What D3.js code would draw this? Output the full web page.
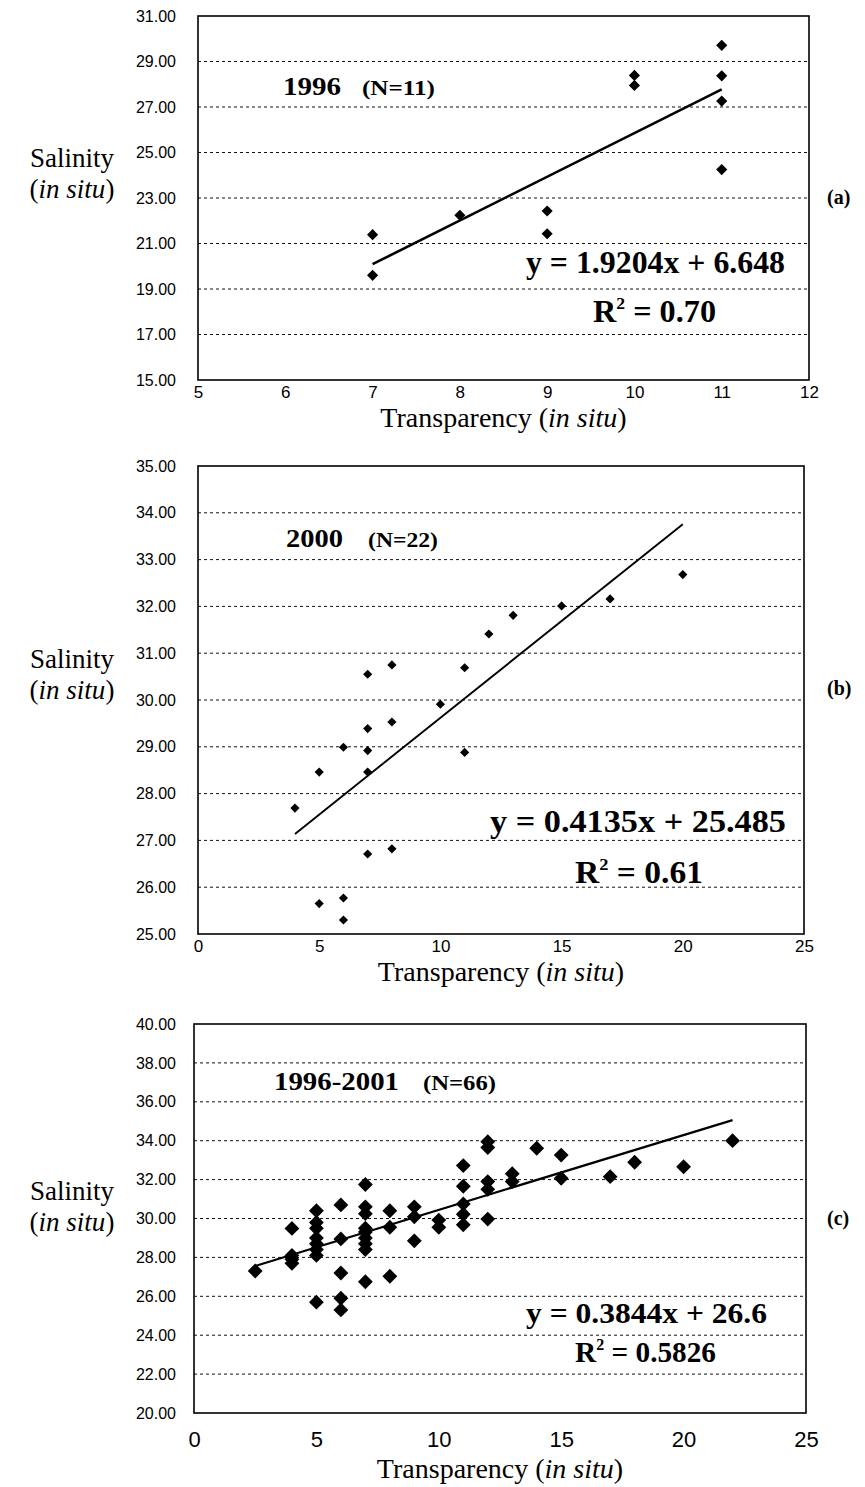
<!DOCTYPE html>
<html>
<head>
<meta charset="utf-8">
<script src="https://cdn.jsdelivr.net/npm/d3@7"></script>
<style>
  body { margin: 0; background: #fff; }
  .sans { font-family: "Liberation Sans", Arial, sans-serif; }
  .serif { font-family: "Liberation Serif", "Times New Roman", serif; }
</style>
</head>
<body>
<svg id="chart" width="865" height="1487"></svg>
<script>
// (a) 1996, N=11
const xA = [7, 7, 8, 9, 9, 10, 10, 11, 11, 11, 11];
const yA = [21.39, 19.60, 22.24, 22.43, 21.43, 28.39, 27.95, 29.71, 28.37, 27.26, 24.25];
const xTicksA = [5, 6, 7, 8, 9, 10, 11, 12];
const yTicksA = [15, 17, 19, 21, 23, 25, 27, 29, 31];

// (b) 2000, N=22
const xB = [4, 5, 5, 6, 6, 6, 7, 7, 7, 7, 7, 8, 8, 8, 10, 11, 11, 12, 13, 15, 17, 20];
const yB = [27.69, 28.46, 25.65, 28.99, 25.77, 25.30, 30.55, 29.39, 28.92, 28.46, 26.71,
            30.75, 29.53, 26.82, 29.91, 30.69, 28.88, 31.41, 31.81, 32.01, 32.16, 32.68];
const xTicksB = [0, 5, 10, 15, 20, 25];
const yTicksB = [25, 26, 27, 28, 29, 30, 31, 32, 33, 34, 35];

// (c) 1996-2001, N=66 (overlapping points not repeated)
const xC = [2.5, 4, 4, 4, 4, 5, 5, 5, 5, 5, 5, 5, 5, 6, 6, 6, 6, 6,
            7, 7, 7, 7, 7, 7, 7, 7, 7, 8, 8, 8, 9, 9, 9, 10, 10,
            11, 11, 11, 11, 11, 12, 12, 12, 12, 12, 13, 13, 14, 15, 15, 17, 18, 20, 22];
const yC = [27.30, 29.49, 28.10, 27.90, 27.70, 30.40, 29.80, 29.50, 29.00, 28.70, 28.40, 28.10, 25.70,
            30.70, 28.95, 27.20, 25.90, 25.30,
            31.75, 30.60, 30.25, 29.50, 29.30, 29.00, 28.70, 28.40, 26.75,
            30.40, 29.55, 27.03, 30.60, 30.09, 28.85, 29.92, 29.55,
            32.72, 31.66, 30.75, 30.22, 29.68, 33.95, 33.65, 31.90, 31.50, 29.97,
            32.30, 31.90, 33.61, 33.26, 32.07, 32.15, 32.89, 32.66, 34.00];
const xTicksC = [0, 5, 10, 15, 20, 25];
const yTicksC = [20, 22, 24, 26, 28, 30, 32, 34, 36, 38, 40];

// trend lines: slope, intercept, x range
const fitA = [1.9204, 6.648, 7, 11];
const fitB = [0.4135, 25.485, 4, 20];
const fitC = [0.3844, 26.6, 2.5, 22];

const svg = d3.select("#chart");

const panels = [
  { xs: xA, ys: yA, xTicks: xTicksA, yTicks: yTicksA, fit: fitA, lineW: 2.6,
    box: { l: 198, r: 809, t: 16, b: 380 }, dot: 62, xFont: 17, xLab: 398, xTitle: 427,
    year: "1996", yearX: 283, yearW: 58, n: "(N=11)", nX: 362, nW: 73, yearY: 95,
    eq: "y = 1.9204x + 6.648", eqX: 526, eqW: 259, eqY: 273, eqF: 31,
    r2: "0.70", r2X: 593, r2W: 123, r2Y: 322,
    tag: "(a)", tagY: 204, salY: 167 },
  { xs: xB, ys: yB, xTicks: xTicksB, yTicks: yTicksB, fit: fitB, lineW: 1.9,
    box: { l: 198, r: 804, t: 466, b: 934 }, dot: 42, xFont: 17, xLab: 952, xTitle: 981,
    year: "2000", yearX: 286, yearW: 57, n: "(N=22)", nX: 368, nW: 70, yearY: 547,
    eq: "y = 0.4135x + 25.485", eqX: 490, eqW: 296, eqY: 832, eqF: 32,
    r2: "0.61", r2X: 575, r2W: 128, r2Y: 883,
    tag: "(b)", tagY: 695, salY: 668 },
  { xs: xC, ys: yC, xTicks: xTicksC, yTicks: yTicksC, fit: fitC, lineW: 2.2,
    box: { l: 194, r: 806, t: 1024, b: 1413 }, dot: 110, xFont: 22, xLab: 1447, xTitle: 1478,
    year: "1996-2001", yearX: 274, yearW: 125, n: "(N=66)", nX: 423, nW: 73, yearY: 1090,
    eq: "y = 0.3844x + 26.6", eqX: 526, eqW: 241, eqY: 1323, eqF: 29,
    r2: "0.5826", r2X: 575, r2W: 141, r2Y: 1362,
    tag: "(c)", tagY: 1225, salY: 1200 }
];

function drawPanel(p) {
  const x = d3.scaleLinear().domain(d3.extent(p.xTicks)).range([p.box.l, p.box.r]);
  const y = d3.scaleLinear().domain(d3.extent(p.yTicks)).range([p.box.b, p.box.t]);
  const g = svg.append("g");

  // dashed gridlines
  g.selectAll(".grid")
    .data(p.yTicks.slice(1, -1))
    .join("line")
    .attr("x1", p.box.l).attr("x2", p.box.r)
    .attr("y1", d => y(d)).attr("y2", d => y(d))
    .attr("stroke", "#111").attr("stroke-width", 1)
    .attr("stroke-dasharray", "3,3");

  // y labels
  const yAxis = g.append("g")
    .attr("transform", "translate(" + p.box.l + ",0)")
    .call(d3.axisLeft(y).tickValues(p.yTicks).tickFormat(d3.format(".2f")).tickSize(0).tickPadding(p.box.l - 176));
  yAxis.select(".domain").remove();
  yAxis.selectAll("text").attr("class", "sans").style("font-size", "16px").attr("fill", "#000");

  // x labels
  const xAxis = g.append("g")
    .attr("transform", "translate(0," + p.box.b + ")")
    .call(d3.axisBottom(x).tickValues(p.xTicks).tickFormat(d3.format("d")).tickSize(0));
  xAxis.select(".domain").remove();
  xAxis.selectAll("text").attr("class", "sans").style("font-size", p.xFont + "px")
    .attr("fill", "#000").attr("dy", null).attr("y", p.xLab - p.box.b);

  // plot frame
  g.append("rect")
    .attr("x", p.box.l).attr("y", p.box.t)
    .attr("width", p.box.r - p.box.l).attr("height", p.box.b - p.box.t)
    .attr("fill", "none").attr("stroke", "#000").attr("stroke-width", 1.6);

  // trend line
  const [m, c0, x0, x1] = p.fit;
  g.append("line")
    .attr("x1", x(x0)).attr("y1", y(m * x0 + c0))
    .attr("x2", x(x1)).attr("y2", y(m * x1 + c0))
    .attr("stroke", "#000").attr("stroke-width", p.lineW);

  // diamonds
  const pts = p.xs.map((v, i) => [v, p.ys[i]]);
  g.selectAll(".pt")
    .data(pts)
    .join("path")
    .attr("d", d3.symbol(d3.symbolSquare, p.dot))
    .attr("transform", d => "translate(" + x(d[0]) + "," + y(d[1]) + ") rotate(45)")
    .attr("fill", "#000");

  // year and N
  g.append("text").attr("class", "serif").attr("x", p.yearX).attr("y", p.yearY)
    .attr("font-weight", "bold").style("font-size", "26px")
    .attr("textLength", p.yearW).attr("lengthAdjust", "spacingAndGlyphs").text(p.year);
  g.append("text").attr("class", "serif").attr("x", p.nX).attr("y", p.yearY)
    .attr("font-weight", "bold").style("font-size", "20px")
    .attr("textLength", p.nW).attr("lengthAdjust", "spacingAndGlyphs").text(p.n);

  // equation and R2
  g.append("text").attr("class", "serif").attr("x", p.eqX).attr("y", p.eqY)
    .attr("font-weight", "bold").style("font-size", p.eqF + "px")
    .attr("textLength", p.eqW).attr("lengthAdjust", "spacingAndGlyphs").text(p.eq);
  const r2 = g.append("text").attr("class", "serif").attr("x", p.r2X).attr("y", p.r2Y)
    .attr("font-weight", "bold").style("font-size", p.eqF + "px")
    .attr("textLength", p.r2W).attr("lengthAdjust", "spacingAndGlyphs");
  r2.append("tspan").text("R");
  r2.append("tspan").attr("dy", -p.eqF * 0.42).style("font-size", (p.eqF * 0.55) + "px").text("2");
  r2.append("tspan").attr("dy", p.eqF * 0.42).text(" = " + p.r2);

  // panel tag
  g.append("text").attr("class", "serif").attr("x", 827).attr("y", p.tagY)
    .attr("font-weight", "bold").style("font-size", "20px").text(p.tag);

  // y title
  g.append("text").attr("class", "serif").attr("x", 72).attr("y", p.salY)
    .attr("text-anchor", "middle").style("font-size", "27px").text("Salinity");
  const sub = g.append("text").attr("class", "serif").attr("x", 72).attr("y", p.salY + 31)
    .attr("text-anchor", "middle").style("font-size", "27px");
  sub.append("tspan").text("(");
  sub.append("tspan").attr("font-style", "italic").text("in situ");
  sub.append("tspan").text(")");

  // x title
  const xt = g.append("text").attr("class", "serif")
    .attr("x", (p.box.l + p.box.r) / 2).attr("y", p.xTitle)
    .attr("text-anchor", "middle").style("font-size", "28px");
  xt.append("tspan").text("Transparency (");
  xt.append("tspan").attr("font-style", "italic").text("in situ");
  xt.append("tspan").text(")");
}

panels.forEach(drawPanel);
</script>
</body>
</html>
